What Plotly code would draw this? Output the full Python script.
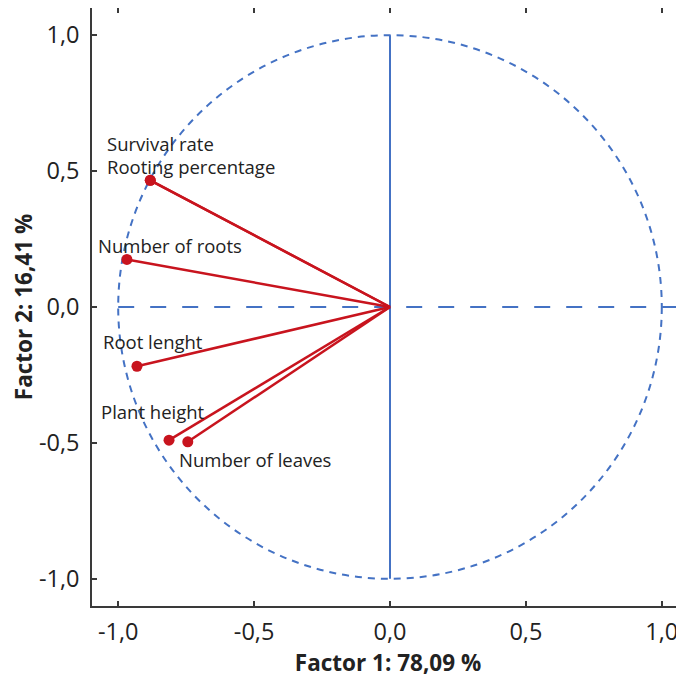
import plotly.graph_objects as go

# Variables and their loadings on Factor 1 / Factor 2
variables = ["Survival rate", "Rooting percentage", "Number of roots",
             "Root lenght", "Plant height", "Number of leaves"]
factor1 = [-0.882, -0.882, -0.968, -0.931, -0.813, -0.744]
factor2 = [0.466, 0.466, 0.175, -0.218, -0.490, -0.496]

# label offsets (pixels) relative to the point
label_dx = [-45, -45, -31, -36, -70, -11]
label_dy = [37, 14, 14, 25, 29, -18]

tick_vals = [-1.0, -0.5, 0.0, 0.5, 1.0]
tick_text = ["-1,0", "-0,5", "0,0", "0,5", "1,0"]

x_title = "Factor 1: 78,09 %"
y_title = "Factor 2: 16,41 %"

RED = "#C8141E"
BLUE = "#4472C4"
AX = "#3a3a3a"
FONT = "Open Sans"
TXT = "#222222"

fig = go.Figure()

# vectors from origin
for v, x, y in zip(variables, factor1, factor2):
    fig.add_trace(go.Scatter(
        x=[0, x], y=[0, y], mode="lines",
        line=dict(color=RED, width=2.5), showlegend=False, hoverinfo="skip"))

fig.add_trace(go.Scatter(
    x=factor1, y=factor2, mode="markers", text=variables,
    marker=dict(color=RED, size=11), showlegend=False))

shapes = [
    dict(type="circle", xref="x", yref="y", x0=-1, y0=-1, x1=1, y1=1,
         line=dict(color=BLUE, width=2, dash="7px,6px"), layer="below"),
    dict(type="line", xref="x", yref="y", x0=-1, y0=0, x1=1.0817, y1=0,
         line=dict(color=BLUE, width=2, dash="16px,16px"), layer="below"),
    dict(type="line", xref="x", yref="y", x0=0, y0=-1, x1=0, y1=1,
         line=dict(color=BLUE, width=2), layer="below"),
]

annotations = []
for v, x, y, dx, dy in zip(variables, factor1, factor2, label_dx, label_dy):
    annotations.append(dict(
        x=x, y=y, xref="x", yref="y", text=v, showarrow=False,
        xanchor="left", yanchor="middle", xshift=dx, yshift=dy,
        font=dict(family=FONT, size=18.5, color=TXT)))

fig.update_layout(
    width=676, height=670,
    margin=dict(l=84, r=0, t=0, b=72),
    plot_bgcolor="white", paper_bgcolor="white",
    shapes=shapes, annotations=annotations,
    font=dict(family=FONT, color=TXT),
)

fig.update_xaxes(
    range=[-1.0964, 1.0817], tickvals=tick_vals, ticktext=tick_text,
    showgrid=False, zeroline=False,
    showline=True, linecolor=AX, linewidth=1.5, mirror="ticks",
    ticks="inside", ticklen=5, tickwidth=1.5, tickcolor=AX,
    tickfont=dict(family=FONT, size=23.5, color=TXT),
    ticklabelstandoff=4,
    title=dict(text="<b>" + x_title + "</b>", standoff=10,
               font=dict(family=FONT, size=22.5, color=TXT)),
    automargin=False,
)
fig.update_yaxes(
    range=[-1.1, 1.1], tickvals=tick_vals, ticktext=tick_text,
    showgrid=False, zeroline=False,
    showline=True, linecolor=AX, linewidth=1.5,
    ticks="inside", ticklen=5, tickwidth=1.5, tickcolor=AX,
    tickfont=dict(family=FONT, size=23.5, color=TXT),
    ticklabelstandoff=6,
    title=dict(text="<b>" + y_title + "</b>", standoff=10,
               font=dict(family=FONT, size=22.5, color=TXT)),
    automargin=False,
)

fig.write_html(
    "out.html",
    post_script="document.documentElement.style.overflow='hidden';"
                "document.body.style.overflow='hidden';")
